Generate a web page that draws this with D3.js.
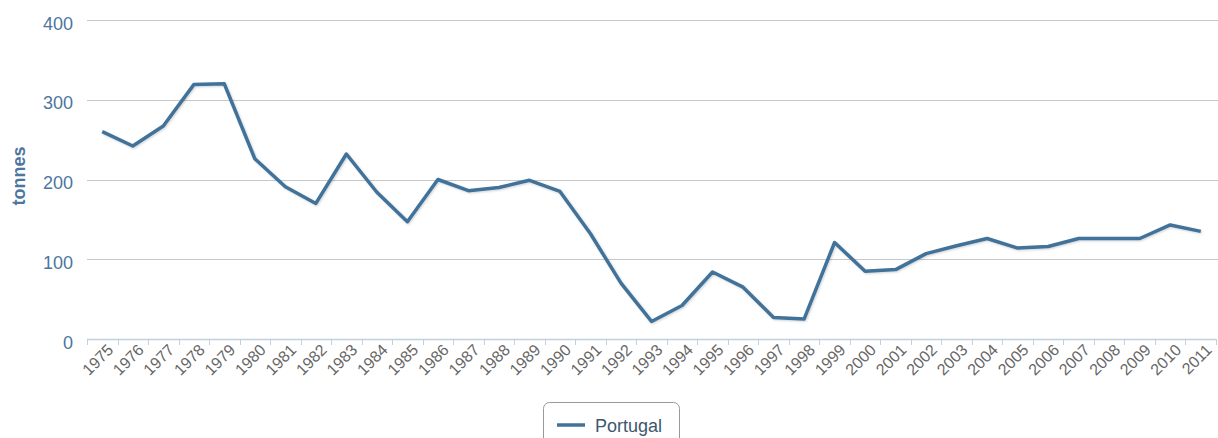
<!DOCTYPE html>
<html><head><meta charset="utf-8">
<script src="https://cdn.jsdelivr.net/npm/d3@7/dist/d3.min.js"></script>
<style>body{margin:0;background:#fff;}svg{display:block;font-family:"Liberation Sans",Arial,sans-serif;}</style>
</head><body><svg id="c" width="1218" height="438"></svg>
<script>
const years = ["1975","1976","1977","1978","1979","1980","1981","1982","1983","1984","1985","1986","1987","1988","1989","1990","1991","1992","1993","1994","1995","1996","1997","1998","1999","2000","2001","2002","2003","2004","2005","2006","2007","2008","2009","2010","2011"];
const portugal = [260,242,267,319,320,226,191,170,232,184,147,200,186,190,199,185,132,70,22,42,84,65,27,25,121,85,87,107,117,126,114,116,126,126,126,143,135];
const yTicks = [0,100,200,300,400];
const seriesName = "Portugal";
const yTitle = "tonnes";

(function(){
const svg = d3.select("#c");
const pLeft = 87, pRight = 1216, pTop = 20, pBottom = 339;
const x = d3.scaleBand().domain(years).range([pLeft, pRight]);
const y = d3.scaleLinear().domain([0,400]).range([pBottom, pTop]);

const defs = svg.append("defs");
const f = defs.append("filter").attr("id","sh").attr("x","-5%").attr("y","-20%").attr("width","110%").attr("height","140%");
f.append("feDropShadow").attr("dx",1).attr("dy",1).attr("stdDeviation",1.2).attr("flood-color","#000").attr("flood-opacity",0.18);

svg.append("g").selectAll("line").data(yTicks.filter(d=>d>0)).join("line")
  .attr("x1",pLeft).attr("x2",1218).attr("y1",d=>Math.round(y(d))+0.5).attr("y2",d=>Math.round(y(d))+0.5)
  .attr("stroke","#c8c8c8").attr("stroke-width",1.2);

svg.append("g").selectAll("text").data(yTicks).join("text")
  .attr("x",73).attr("y",d=>y(d)+9.5).attr("text-anchor","end")
  .attr("fill","#4d759e").attr("font-size",18).text(d=>d);

svg.append("text").attr("transform","translate(25,176) rotate(-90)")
  .attr("text-anchor","middle").attr("fill","#4d759e").attr("font-size",18).attr("font-weight","bold").text(yTitle);

const xa = svg.append("g");
xa.append("line").attr("x1",pLeft).attr("x2",pRight).attr("y1",pBottom+0.5).attr("y2",pBottom+0.5).attr("stroke","#c0d0e0").attr("stroke-width",1.5);
const bounds = years.map(d=>x(d)).concat([pRight]);
xa.selectAll("line.t").data(bounds).join("line").attr("class","t")
  .attr("x1",d=>Math.round(d)+0.5).attr("x2",d=>Math.round(d)+0.5).attr("y1",pBottom).attr("y2",pBottom+6)
  .attr("stroke","#c0d0e0").attr("stroke-width",1);
xa.selectAll("text").data(years).join("text")
  .attr("transform",d=>"translate("+(x(d)+x.bandwidth()/2+12)+","+(pBottom+12)+") rotate(-45)")
  .attr("text-anchor","end").attr("fill","#666").attr("font-size",16).text(d=>d);

const line = d3.line().x((d,i)=>x(years[i])+x.bandwidth()/2).y(d=>y(d));
svg.append("path").datum(portugal).attr("d",line).attr("fill","none")
  .attr("stroke","#41729a").attr("stroke-width",3.5).attr("stroke-linejoin","round").attr("filter","url(#sh)");

const lg = svg.append("g");
lg.append("rect").attr("x",543.5).attr("y",402.5).attr("width",136).attr("height",50).attr("rx",6)
  .attr("fill","#fff").attr("stroke","#999").attr("stroke-width",1);
lg.append("line").attr("x1",557).attr("x2",585).attr("y1",425).attr("y2",425).attr("stroke","#41729a").attr("stroke-width",3.5);
lg.append("text").attr("x",595).attr("y",432).attr("fill","#3e576f").attr("font-size",18).text(seriesName);
})();
</script></body></html>
